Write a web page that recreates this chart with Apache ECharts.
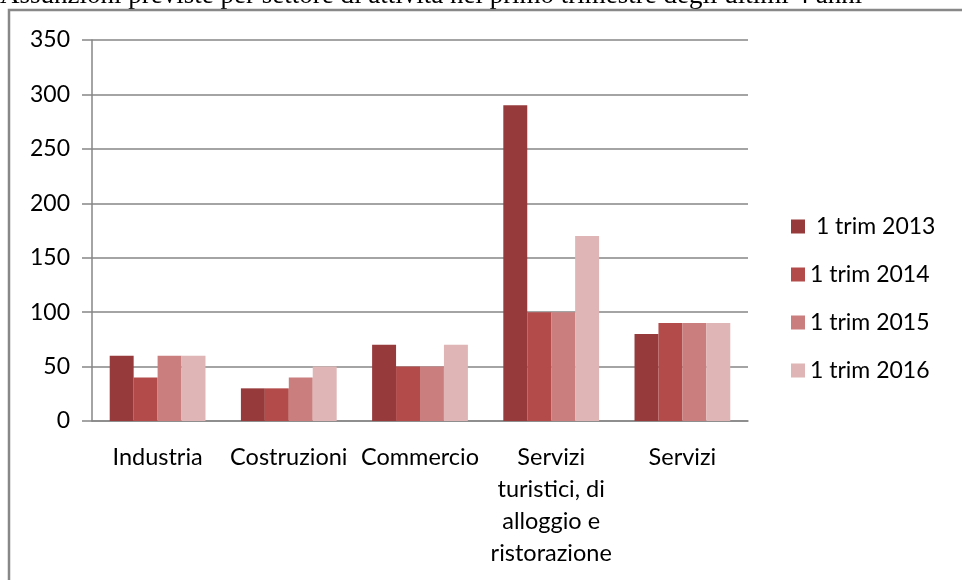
<!DOCTYPE html>
<html style="height: 100%">
<head>
    <meta charset="utf-8">
    <script src="https://cdn.jsdelivr.net/npm/echarts@6/dist/echarts.min.js"></script>
</head>
<body style="height: 100%; margin: 0; background: #fff">
    <div id="main" style="width:962px;height:580px;"></div>
    <script type="text/javascript">
        // dati
        var settori = ['Industria', 'Costruzioni', 'Commercio', 'Servizi\nturistici, di\nalloggio e\nristorazione', 'Servizi'];
        var anni = [' 1 trim 2013', '1 trim 2014', '1 trim 2015', '1 trim 2016'];
        var t2013 = [60, 30, 70, 290, 80];
        var t2014 = [40, 30, 50, 100, 90];
        var t2015 = [60, 40, 50, 100, 90];
        var t2016 = [60, 50, 70, 170, 90];
        var colori = ['#963a3b', '#b24b4a', '#ca7e7e', '#dfb5b5'];
        var valori = [t2013, t2014, t2015, t2016];

        var myChart = echarts.init(document.getElementById('main'));
        var font = 'Lato';
        var series = [];
        for (var i = 0; i < anni.length; i++) {
            series.push({
                name: anni[i],
                type: 'bar',
                data: valori[i],
                barGap: '0%',
                barCategoryGap: '27%',
                itemStyle: { color: colori[i] }
            });
        }
        var option = {
            animation: false,
            color: colori,
            graphic: [
                {
                    type: 'text', left: 0, top: -18,
                    style: {
                        text: 'Assunzioni previste per settore di attività nel primo trimestre degli ultimi 4 anni',
                        font: '27px "Liberation Serif"', fill: '#000'
                    }
                },
                {
                    type: 'rect', shape: { x: 9, y: 10, width: 980, height: 600 },
                    style: { fill: 'none', stroke: '#888', lineWidth: 2.5 }
                }
            ],
            legend: {
                orient: 'vertical',
                left: 786,
                top: 210,
                itemWidth: 14,
                itemHeight: 14,
                itemGap: 25,
                icon: 'rect',
                textStyle: { fontFamily: font, fontSize: 23, color: '#000' }
            },
            grid: { left: 92, right: 214, top: 40, bottom: 159 },
            xAxis: {
                type: 'category',
                data: settori,
                axisLine: { lineStyle: { color: '#868686', width: 1.5 } },
                axisTick: { length: 9, lineStyle: { color: '#868686', width: 1.5 } },
                axisLabel: {
                    fontFamily: font, fontSize: 23.5, color: '#000',
                    margin: 20, lineHeight: 32, interval: 0
                }
            },
            yAxis: {
                type: 'value',
                min: 0, max: 350, interval: 50,
                axisLine: { show: true, lineStyle: { color: '#868686', width: 1.5 } },
                axisTick: { show: true, length: 10, lineStyle: { color: '#868686', width: 1.5 } },
                splitLine: { lineStyle: { color: '#868686', width: 1.5 } },
                axisLabel: { fontFamily: font, fontSize: 23, color: '#000', margin: 22 }
            },
            series: series
        };
        myChart.setOption(option);
    </script>
</body>
</html>
